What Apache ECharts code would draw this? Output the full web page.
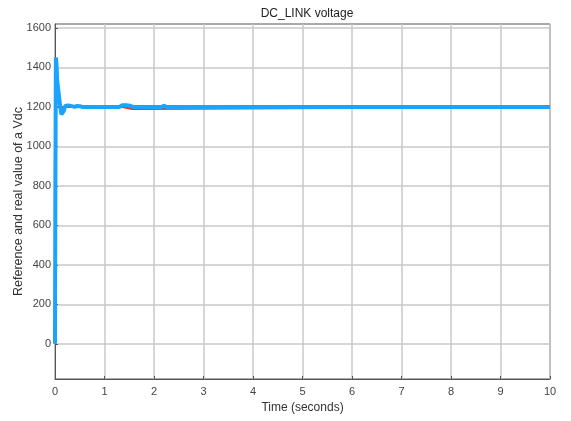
<!DOCTYPE html>
<html>
<head>
<meta charset="utf-8">
<script src="https://cdn.jsdelivr.net/npm/echarts@6/dist/echarts.min.js"></script>
<style>
  html, body { margin: 0; padding: 0; background: #fff; }
  #chart { width: 571px; height: 421px; }
</style>
</head>
<body>
<div id="chart"></div>
<script>
// measured Vdc (time in s, voltage)
const vdcTime = [0, 0.008, 0.018, 0.03, 0.045, 0.065, 0.085, 0.105, 0.13, 0.155, 0.18, 0.205, 0.235, 0.27, 0.31, 0.4, 0.45, 0.5, 0.55, 1.3, 1.36, 1.44, 1.52, 1.58, 2.15, 2.2, 2.25, 10];
const vdcValue = [0, 850, 1450, 1420, 1330, 1290, 1245, 1200, 1162, 1158, 1180, 1205, 1214, 1208, 1200, 1200, 1205, 1204, 1200, 1200, 1209, 1208, 1206, 1200, 1200, 1205, 1200, 1200];

// reference Vdc
const refTime = [0, 1.36, 1.37, 1.56, 1.57, 10];
const refValue = [1200, 1200, 1190, 1190, 1200, 1200];

const yTicks = [0, 200, 400, 600, 800, 1000, 1200, 1400, 1600];

const zip = (a, b) => a.map((t, i) => [t, b[i]]);

const chart = echarts.init(document.getElementById('chart'));
const font = 'Liberation Sans, Arial, sans-serif';

chart.setOption({
  animation: false,
  title: {
    text: 'DC_LINK voltage',
    left: 302,
    top: 3,
    textAlign: 'center',
    textStyle: { fontSize: 12, fontWeight: 'normal', color: '#222', fontFamily: font }
  },
  grid: {
    left: 55, right: 21, top: 24, bottom: 42,
    outerBoundsMode: 'none',
    containLabel: false,
    show: true, borderColor: '#555', borderWidth: 1, backgroundColor: '#fff'
  },
  xAxis: {
    type: 'value',
    min: 0, max: 10, interval: 1,
    name: 'Time (seconds)',
    nameLocation: 'middle',
    nameGap: 23,
    nameMoveOverlap: false,
    nameTextStyle: { fontSize: 12, color: '#333', fontFamily: font },
    axisLine: { onZero: false, lineStyle: { color: '#555', width: 1 } },
    axisTick: { inside: true, length: 3, lineStyle: { color: '#555' } },
    axisLabel: { fontSize: 11, color: '#444', fontFamily: font, margin: 7 },
    splitLine: { show: true, lineStyle: { color: '#c8c8c8', width: 1.5 } }
  },
  yAxis: {
    type: 'value',
    min: -178, max: 1620,
    name: 'Reference and real value of a Vdc',
    nameLocation: 'middle',
    nameGap: 30,
    nameMoveOverlap: false,
    nameTextStyle: { fontSize: 12.5, color: '#333', fontFamily: font },
    axisLine: { show: true, onZero: false, lineStyle: { color: '#555', width: 1 } },
    axisTick: { show: true, inside: true, length: 3, customValues: yTicks, lineStyle: { color: '#555' } },
    axisLabel: { fontSize: 11, color: '#444', fontFamily: font, margin: 4, customValues: yTicks, formatter: v => String(v) },
    splitLine: { show: true, lineStyle: { color: '#c8c8c8', width: 1.5 } }
  },
  series: [
    {
      name: 'Reference',
      type: 'line',
      data: zip(refTime, refValue),
      showSymbol: false,
      lineStyle: { color: '#e8303a', width: 2 },
      z: 2
    },
    {
      name: 'Vdc',
      type: 'line',
      data: zip(vdcTime, vdcValue),
      showSymbol: false,
      lineStyle: { color: '#1aa3ff', width: 4 },
      z: 3
    }
  ]
});
</script>
</body>
</html>
